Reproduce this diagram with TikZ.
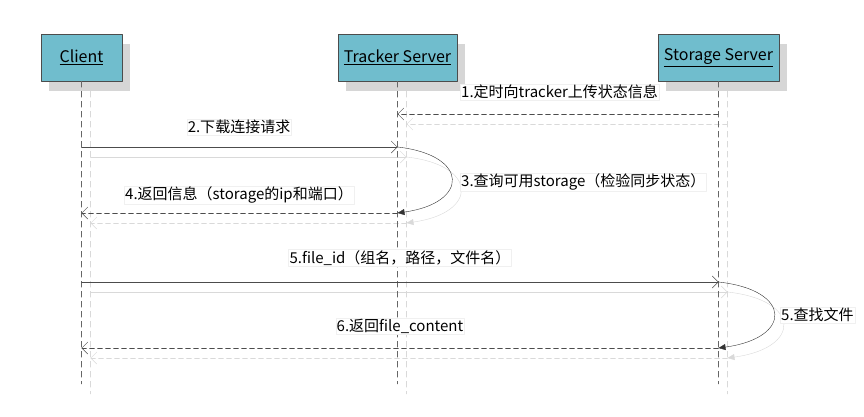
\documentclass[tikz,border=0pt]{standalone}
\usepackage{fontspec}
\setmainfont{Noto Sans CJK SC}
\usetikzlibrary{arrows.meta,calc}

\definecolor{boxblue}{RGB}{112,189,205}
\definecolor{shadowgray}{RGB}{214,214,214}

\begin{document}
\begin{tikzpicture}[x=1pt,y=-1pt,line cap=round,line join=round,
    font=\fontsize{15}{17}\selectfont,
    actor/.style={draw=black!70,fill=boxblue,minimum height=47pt,inner sep=0pt,
        font=\fontsize{16}{18}\selectfont},
    life/.style={draw=black!60,dash pattern=on 6pt off 4pt},
    msg/.style={draw=black!70,-{Straight Barb[length=6pt,width=12pt]}},
    reply/.style={msg,dash pattern=on 5pt off 3pt},
    self/.style={draw=black!80,-{Triangle[length=7pt,width=6pt]}},
    ghost/.style={draw=black!15},
    lbl/.style={fill=white,draw=black!6,inner sep=1pt}]

    \useasboundingbox (0,0) rectangle (864,416);

    % box shadows
    \path[fill=shadowgray] (49,44) rectangle (130,91);
    \path[fill=shadowgray] (346,44) rectangle (465,91);
    \path[fill=shadowgray] (666,44) rectangle (787,91);

    % actors
    \node[actor,minimum width=81pt] (client) at (81.5,57.5) {\underline{Client}};
    \node[actor,minimum width=119pt] (tracker) at (397.5,57.5) {\underline{Tracker Server}};
    \node[actor,minimum width=121pt] (storage) at (718.5,57.5) {\underline{Storage Server}};

    % rows
    \coordinate (m1) at (0,114);
    \coordinate (m2) at (0,147);
    \coordinate (m4) at (0,213);
    \coordinate (m5) at (0,282);
    \coordinate (m6) at (0,348);
    \coordinate (bottom) at (0,384);

    % shadow copies
    \begin{scope}[transform canvas={shift={(9pt,-10pt)}}]
        \foreach \act in {client,tracker,storage}
            \draw[life,ghost] (\act.south) -- (\act |- bottom);
        \draw[reply,ghost] (storage |- m1) -- (tracker |- m1);
        \draw[msg,ghost] (client |- m2) -- (tracker |- m2);
        \draw[self,ghost] (tracker |- m2) .. controls +(72,8) and +(72,-10) .. (tracker |- m4);
        \draw[reply,ghost] (tracker |- m4) -- (client |- m4);
        \draw[msg,ghost] (client |- m5) -- (storage |- m5);
        \draw[self,ghost] (storage |- m5) .. controls +(74,8) and +(74,-10) .. (storage |- m6);
        \draw[reply,ghost] (storage |- m6) -- (client |- m6);
    \end{scope}

    % lifelines
    \draw[life] (client.south) -- (client |- bottom);
    \draw[life] (tracker.south) -- (tracker |- bottom);
    \draw[life] (storage.south) -- (storage |- bottom);

    % messages
    \draw[reply] (storage |- m1) -- (tracker |- m1);
    \draw[msg] (client |- m2) -- (tracker |- m2);
    \draw[self] (tracker |- m2) .. controls +(72,8) and +(72,-10) .. (tracker |- m4);
    \draw[reply] (tracker |- m4) -- (client |- m4);
    \draw[msg] (client |- m5) -- (storage |- m5);
    \draw[self] (storage |- m5) .. controls +(74,8) and +(74,-10) .. (storage |- m6);
    \draw[reply] (storage |- m6) -- (client |- m6);

    % labels
    \node[lbl,anchor=west] (l1) at (460,92) {1.定时向tracker上传状态信息};
    \node[lbl] (l2) at (239,127) {2.下载连接请求};
    \node[lbl,anchor=west] (l3) at (460,182) {3.查询可用storage（检验同步状态）};
    \node[lbl] (l4) at (239,195) {4.返回信息（storage的ip和端口）};
    \node[lbl] (l5) at (400,258) {5.file\_id（组名，路径，文件名）};
    \node[lbl,anchor=west] (l7) at (780,315) {5.查找文件};
    \node[lbl] (l6) at (400,326) {6.返回file\_content};

\end{tikzpicture}
\end{document}
